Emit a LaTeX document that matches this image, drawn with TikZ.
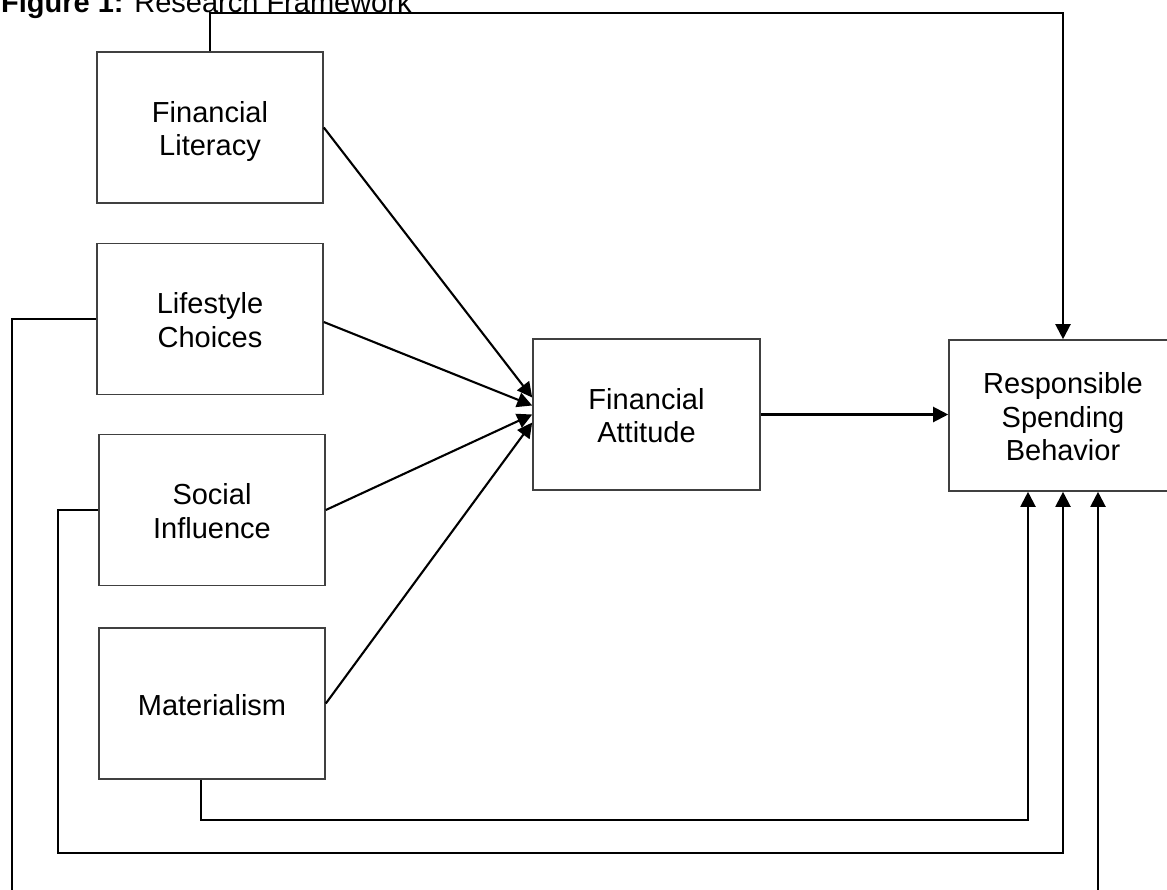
\documentclass[tikz,border=0pt]{standalone}
\usepackage{fontspec}
\setmainfont{Liberation Sans}
\usetikzlibrary{arrows.meta}
\newcommand\txl[1]{\rule[-2pt]{0pt}{27pt}\smash{#1}}
\begin{document}
\begin{tikzpicture}[x=1pt,y=-1pt,
  box/.style={draw=black!75,line width=1.6pt,minimum width=226pt,minimum height=151pt,inner sep=0pt,align=center,font=\fontsize{29}{33.5}\selectfont},
  conn/.style={line width=2.1pt,black},
  arr/.style={conn,-{Triangle[length=15pt,width=15pt]}}]
\clip (0,0) rectangle (1167,889);
\node[anchor=base west,font=\fontsize{29}{33}\selectfont,inner sep=0pt] (title) at (1,12) {\textbf{Figure 1:} Research Framework};
\node[box] (fl) at (210,127.5) {\txl{Financial}\\\txl{Literacy}};
\node[box] (lc) at (210,319) {\txl{Lifestyle}\\\txl{Choices}};
\node[box] (si) at (212,510) {\txl{Social}\\\txl{Influence}};
\node[box] (ma) at (212,703.5) {\txl{Materialism}};
\node[box,minimum width=227pt] (fa) at (646.5,414.5) {\txl{Financial}\\\txl{Attitude}};
\node[box,minimum width=228pt] (rsb) at (1063,415.5) {\txl{Responsible}\\\txl{Spending}\\\txl{Behavior}};
\coordinate (top) at (0,13);
\coordinate (m1) at (1028,820);
\coordinate (s1) at (58,853);
\coordinate (l1) at (12,930);
% top feedback
\draw[arr] (fl.north) -- (fl.north |- top) -| (rsb.north);
% converging arrows
\draw[arr] (fl.east) -- ([yshift=17pt]fa.west);
\draw[arr] ([yshift=-3pt]lc.east) -- ([yshift=9pt]fa.west);
\draw[arr] (si.east) -- ([yshift=0pt]fa.west);
\draw[arr] (ma.east) -- ([yshift=-8pt]fa.west);
% FA to RSB
\draw[arr] (fa.east) -- (fa.east -| rsb.west);
% bottom loops
\draw[arr] ([xshift=-11pt]ma.south) |- (m1) -- (m1 |- rsb.south);
\draw[arr] (si.west) -| (s1) -| (rsb.south);
\draw[arr] (lc.west) -| (l1) -| ([xshift=35pt]rsb.south);
\end{tikzpicture}
\end{document}
